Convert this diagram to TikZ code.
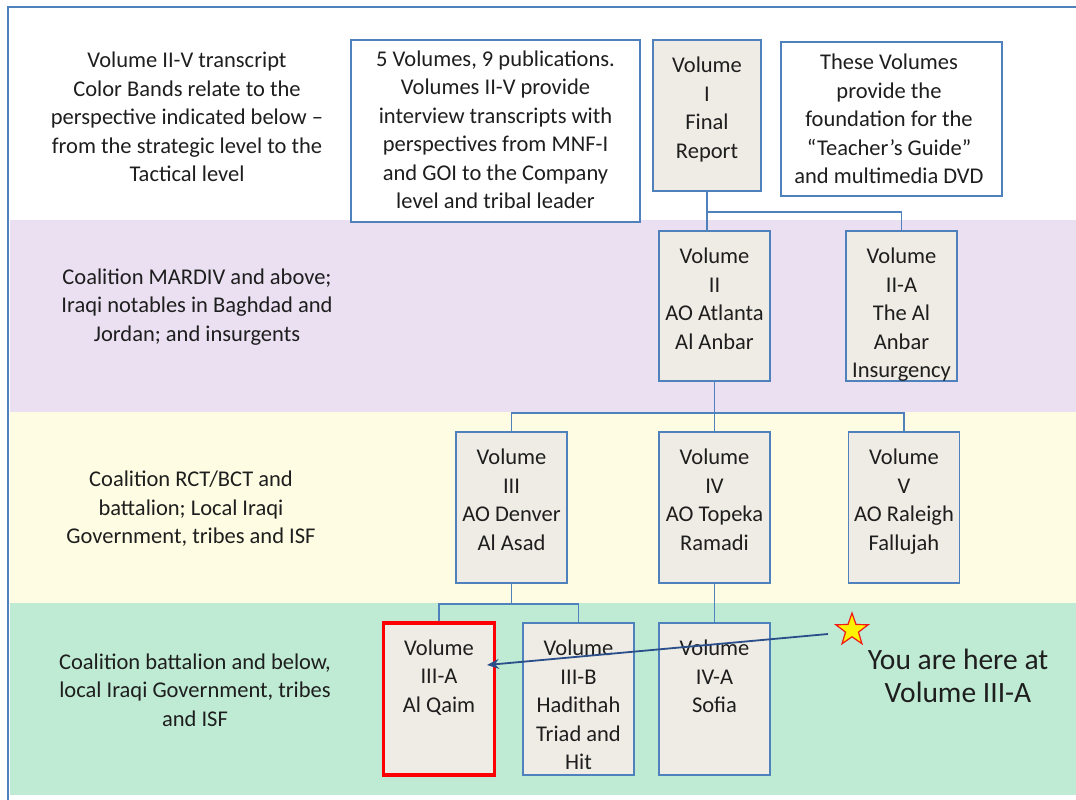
\documentclass[tikz,border=0pt]{standalone}
\usepackage{fontspec}
\setmainfont{Carlito}
\usetikzlibrary{shapes.geometric,arrows.meta,calc}
\definecolor{bord}{HTML}{4F81BD}
\definecolor{boxfill}{HTML}{EEECE4}
\definecolor{bandA}{HTML}{EAE0F2}
\definecolor{bandB}{HTML}{FEFDE3}
\definecolor{bandC}{HTML}{BFEBD4}
\definecolor{txtc}{HTML}{1E1E1E}
\definecolor{arrc}{HTML}{2A4F8A}
\definecolor{starred}{HTML}{F01818}
\tikzset{
  vol/.style={draw=bord, fill=boxfill, line width=1.8pt, minimum width=111, minimum height=151, inner sep=0},
  note/.style={draw=bord, fill=white, line width=1.8pt, inner sep=0},
  txt/.style={font=\fontsize{22.5}{28.5}\selectfont, text=txtc, align=center, inner sep=0},
  bigtxt/.style={font=\fontsize{29.5}{33}\selectfont, text=txtc, align=center, inner sep=0},
  conn/.style={draw=bord, line width=1.8pt},
  vt/.style={txt, anchor=north, yshift=-18}
}
\begin{document}
\begin{tikzpicture}[x=1pt,y=-1pt]
\useasboundingbox (0,0) rectangle (1076,800);
% bands
\fill[bandA] (10,220) rectangle (1076,412);
\fill[bandB] (10,412) rectangle (1076,603);
\fill[bandC] (10,603) rectangle (1076,795);
% frame
\draw[bord, line width=1.5pt] (8,800) -- (8,7) -- (1076,7);
% left texts
\node[txt] (lt1) at (187,117) {Volume II-V transcript\\Color Bands relate to the\\perspective indicated below --\\from the strategic level to the\\Tactical level};
\node[txt] (lt2) at (197,307) {Coalition MARDIV and above;\\Iraqi notables in Baghdad and\\Jordan; and insurgents};
\node[txt] (lt3) at (191,509) {Coalition RCT/BCT and\\battalion; Local Iraqi\\Government, tribes and ISF};
\node[txt] (lt4) at (195,690) {Coalition battalion and below,\\local Iraqi Government, tribes\\and ISF};
% notes
\node[note, minimum width=289, minimum height=182] (n1) at (495.5,131) {};
\node[txt] (n1t) at (495.5,130) {5 Volumes, 9 publications.\\Volumes II-V provide\\interview transcripts with\\perspectives from MNF-I\\and GOI to the Company\\level and tribal leader};
\node[note, minimum width=221, minimum height=154] (n2) at (891.5,119) {};
\node[txt] (n2t) at (889,119) {These Volumes\\provide the\\foundation for the\\``Teacher's Guide''\\and multimedia DVD};
% volume boxes
\node[vol, minimum width=108] (v1) at (707,115.5) {};
\node[vt] at (v1.north) {Volume\\I\\Final\\Report};
\node[vol, minimum height=150] (v2) at (714.5,306) {};
\node[vt] at (v2.north) {Volume\\II\\AO Atlanta\\Al Anbar};
\node[vol, minimum height=150] (v2a) at (901.5,306) {};
\node[vt] at (v2a.north) {Volume\\II-A\\The Al\\Anbar\\Insurgency};
\node[vol] (v3) at (511.5,507.5) {};
\node[vt] at (v3.north) {Volume\\III\\AO Denver\\Al Asad};
\node[vol] (v4) at (714.5,507.5) {};
\node[vt] at (v4.north) {Volume\\IV\\AO Topeka\\Ramadi};
\node[vol] (v5) at (904,507.5) {};
\node[vt] at (v5.north) {Volume\\V\\AO Raleigh\\Fallujah};
\node[vol, draw=red, line width=3.5pt, minimum height=152] (v3a) at (439,699) {};
\node[vt] at (v3a.north) {Volume\\III-A\\Al Qaim};
\node[vol, minimum height=152] (v3b) at (578.5,699) {};
\node[vt] at (v3b.north) {Volume\\III-B\\Hadithah\\Triad and\\Hit};
\node[vol, minimum height=152] (v4a) at (714.5,699) {};
\node[vt] at (v4a.north) {Volume\\IV-A\\Sofia};
% connectors
\coordinate (j1) at ($(v1.south)+(0,20)$);
\draw[conn] (v1.south) -- (v1.south |- v2.north);
\draw[conn] (j1) -| (v2a.north);
\coordinate (j2) at ($(v2.south)+(0,31)$);
\draw[conn] (v2.south) -- (v4.north);
\draw[conn] (v3.north) |- (j2) -| (v5.north);
\coordinate (j3) at ($(v3.south)+(0,20)$);
\draw[conn] (v3.south) -- (j3);
\draw[conn] (v3a.north) |- (j3) -| (v3b.north);
\draw[conn] (v4.south) -- (v4a.north);
% star and arrow
\node[star, star points=5, star point ratio=2.5, minimum size=34, inner sep=0, draw=starred, fill=yellow, line width=1.2pt] (st) at (852,630) {};
\coordinate (ae) at (487,665);
\coordinate (as) at (828,634);
\draw[arrc, line width=1.8pt, -{Stealth[length=12pt,width=10pt,inset=4pt]}] (as) -- (ae);
\node[bigtxt] (here) at (958,676) {You are here at\\Volume III-A};
\end{tikzpicture}
\end{document}
